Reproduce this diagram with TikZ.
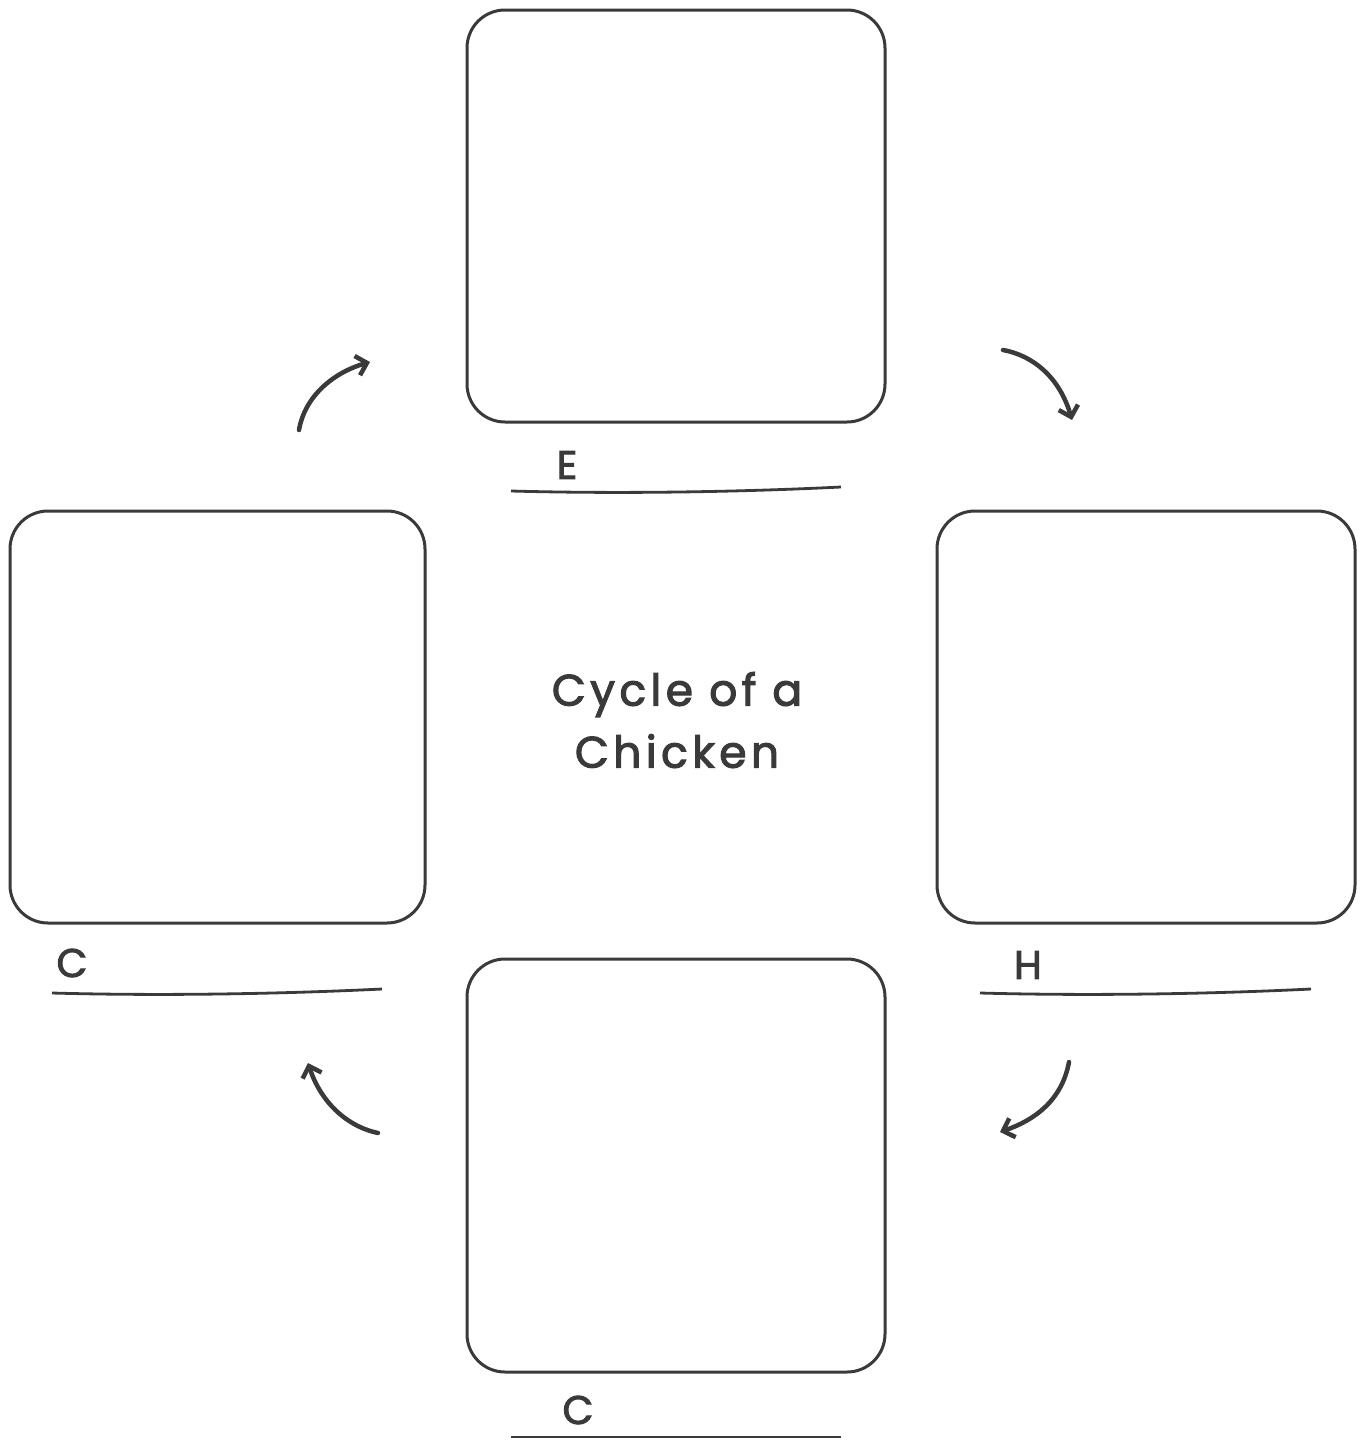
\documentclass[tikz,border=0pt]{standalone}
\usepackage{fontspec}
\setmainfont{Poppins}[FakeBold=2.5]
\newfontfamily\titlefont{Poppins}[LetterSpace=10,FakeBold=2.5]
\usetikzlibrary{arrows.meta}
\definecolor{ink}{HTML}{3A3A3A}
\begin{document}
\begin{tikzpicture}[x=1pt,y=-1pt,
  panel/.style={draw=ink,line width=3pt,rounded corners=38pt},
  rule/.style={draw=ink,line width=2.8pt},
  flow/.style={draw=ink,line width=4.5pt,line cap=round,-{Straight Barb[length=10pt,width=20pt,line width=4.5pt]}},
  lab/.style={text=ink,font=\fontsize{40}{40}\selectfont},
  title/.style={text=ink,align=center,font=\titlefont\fontsize{44}{62}\selectfont}]
\useasboundingbox[fill=white] (0,0) rectangle (1362,1440);
% panels
\draw[panel] (467,10) rectangle (885,422);
\draw[panel] (10,511) rectangle (425,923);
\draw[panel] (937,511) rectangle (1355,923);
\draw[panel] (467,959) rectangle (885,1372);
% label lines
\coordinate (e1) at (511,491); \coordinate (e2) at (841,487);
\coordinate (c1) at (52,993);  \coordinate (c2) at (382,989);
\coordinate (h1) at (980,993); \coordinate (h2) at (1311,989);
\coordinate (b1) at (511,1437); \coordinate (b2) at (841,1437);
\draw[rule] (e1) .. controls (620,494) and (740,492) .. (e2);
\draw[rule] (c1) .. controls (160,996) and (280,994) .. (c2);
\draw[rule] (h1) .. controls (1090,996) and (1210,994) .. (h2);
\draw[rule] (b1) -- (b2);
\node[lab] (le) at (567,465) {E};
\node[lab] (lc) at (72,963) {C};
\node[lab] (lh) at (1028,965) {H};
\node[lab] (lb) at (578,1410) {C};
% title
\node[title] (t) at (677,720) {Cycle of a\\Chicken};
% arrows
\coordinate (a1s) at (299,430); \coordinate (a1e) at (370,362);
\coordinate (a2s) at (1003,350); \coordinate (a2e) at (1072,420);
\coordinate (a3s) at (1069,1062); \coordinate (a3e) at (1000,1132);
\coordinate (a4s) at (378,1133); \coordinate (a4e) at (308,1063);
\draw[flow] (a1s) .. controls (305,395) and (335,372) .. (a1e);
\draw[flow] (a2s) .. controls (1040,357) and (1062,385) .. (a2e);
\draw[flow] (a3s) .. controls (1062,1100) and (1035,1120) .. (a3e);
\draw[flow] (a4s) .. controls (345,1126) and (320,1100) .. (a4e);
\end{tikzpicture}
\end{document}
